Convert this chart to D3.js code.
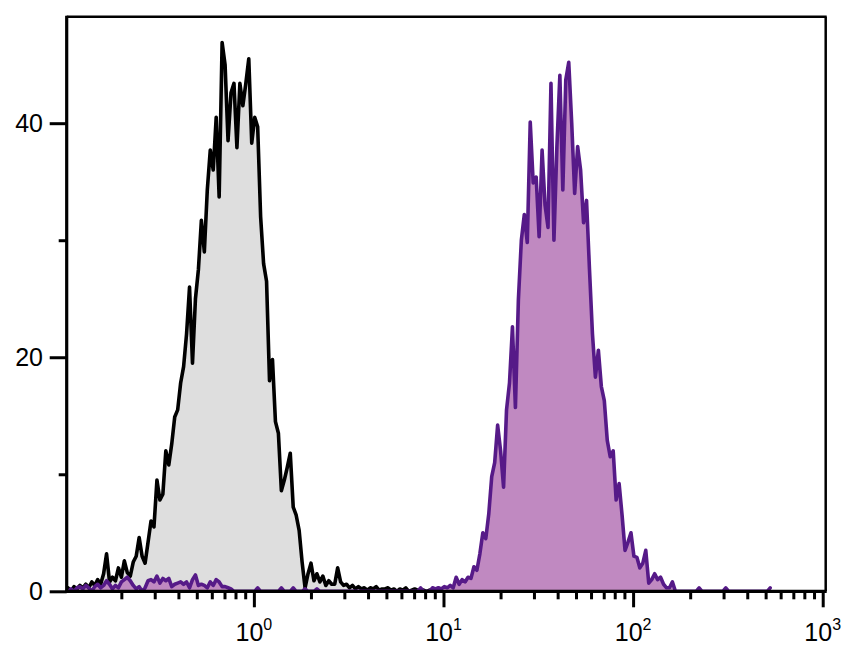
<!DOCTYPE html>
<html><head><meta charset="utf-8">
<script src="https://cdn.jsdelivr.net/npm/d3@7"></script>
<style>body{margin:0;background:#fff} svg{display:block}</style>
</head><body><svg id="c" width="856" height="672"></svg>
<script>
// Histogram bins: centre of bin i is at log10(value) = binStartLog + i / binsPerDecade
const binStartLog = -0.98;
const binsPerDecade = 64;

// Unstained / control (gray fill, black outline)
const grayCounts = [
 0.3,0,0.4,0.2,0.5,0.3,0.6,0.3,0.8,0.5,
 1.0,0.6,1.5,3.2,0.8,1.2,0.9,2.0,1.2,2.6,
 1.6,1.3,2.5,3.0,4.6,3.0,2.4,4.2,6.0,5.5,
 9.5,7.8,8.3,12.0,10.8,12.6,14.9,15.5,17.8,19.2,
 22.0,26.0,19.5,25.0,27.5,31.7,29.0,34.3,37.7,36.0,
 40.5,33.7,46.9,45.0,38.5,42.6,43.4,37.9,43.4,41.5,
 43.4,45.5,38.3,40.5,39.7,32.0,28.0,26.5,18.0,19.8,
 14.5,13.5,8.6,9.5,10.6,11.8,7.2,6.5,5.2,2.5,
 0.3,1.5,2.4,0.9,1.5,0.8,1.3,0.5,0.9,0.6,
 0.6,2.0,0.8,0.5,0.6,0.3,0.5,0.2,0.4,0.2,
 0.3,0.1,0.3,0.2,0.4,0.1,0.2,0.2,0.3,0.1,
 0.2,0,0.2,0.1,0.3,0,0.1,0.2,0.1,0,
 0.1,0,0.1,0,0.1,0,0
];

// Stained sample (purple)
const purpleCounts = [
 0,0.2,0,0.3,0.4,0.2,0.5,0.3,0,0.4,
 0.6,0.3,0.5,0.9,0.6,0.2,0.5,0.3,0.8,1.0,
 1.2,0.9,0.5,0.2,0.4,0,0.3,0.9,1.0,0.8,
 1.3,0.7,1.1,0.9,1.1,0.4,0.6,0.7,0.8,0.6,
 0.8,0.3,1.0,1.4,0.5,0.6,0.5,0.3,0.8,0.5,
 1.0,0.8,0.4,0.4,0.3,0.2,0,0,0,0,
 0,0,0,0,0.3,0,0,0,0,0,
 0,0,0.3,0,0,0,0.3,0,0,0,
 0.2,0,0,0,0.2,0,0,0,0,0,
 0,0,0,0,0,0,0,0,0,0,
 0,0,0,0,0,0,0,0,0,0,
 0,0,0,0,0,0,0,0,0,0.3,
 0,0,0,0.3,0.2,0.3,0.2,0.4,0.3,0.5,
 0.3,1.2,0.6,1.0,0.8,1.2,1.1,2.1,1.8,3.2,
 5.0,4.5,6.6,9.8,11.0,14.2,12.0,8.9,15.5,17.8,
 22.6,15.7,24.9,30.0,32.2,29.8,40.1,34.9,35.4,30.3,
 37.7,33.0,31.1,43.4,30.0,38.0,44.1,34.3,43.7,45.2,
 40.0,34.0,38.0,36.0,31.5,33.4,27.5,22.0,18.3,20.6,
 17.5,16.3,12.9,11.5,12.0,7.8,9.2,6.5,3.5,4.2,
 5.0,3.0,2.9,2.0,2.4,3.5,0.7,1.0,1.5,1.0,
 1.2,0.6,0.3,0.3,0.8,0,0,0,0,0,
 0,0,0,0.3,0,0,0,0,0,0,
 0,0,0.3,0,0,0,0,0,0,0,
 0,0,0,0,0,0,0,0.3
];

const yMajorTicks = [0, 20, 40];
const yMinorTicks = [10, 30];
const xDecadeExponents = [0, 1, 2, 3];
const xDomain = [0.103, 1037];
const yDomain = [0, 49.1];

const svg = d3.select('#c');
const L = 66.7, R = 825.7, T = 16.7, B = 591.3;
const x = d3.scaleLog().domain(xDomain).range([L, R]);
const y = d3.scaleLinear().domain(yDomain).range([B, T]);

const toPoints = counts => counts.map((c, i) => ({v: Math.pow(10, binStartLog + i / binsPerDecade), c}));
const grayPts = toPoints(grayCounts);
const purplePts = toPoints(purpleCounts);

svg.append('defs').append('clipPath').attr('id','clip')
  .append('rect').attr('x', L).attr('y', T).attr('width', R - L).attr('height', B - T);

const g = svg.append('g').attr('clip-path','url(#clip)');
const area = d3.area().x(d => x(d.v)).y0(y(0)).y1(d => y(d.c));
const line = d3.line().x(d => x(d.v)).y(d => y(d.c));

g.append('path').datum(grayPts).attr('d', area).attr('fill', '#dedede');
g.append('path').datum(purplePts).attr('d', area).attr('fill', '#c089c1');
g.append('path').datum(grayPts).attr('d', line).attr('fill','none')
  .attr('stroke','#000').attr('stroke-width',3.6).attr('stroke-linejoin','round').attr('stroke-linecap','round');
g.append('path').datum(purplePts).attr('d', line).attr('fill','none')
  .attr('stroke','#561a88').attr('stroke-width',3.6).attr('stroke-linejoin','round').attr('stroke-linecap','round');

// frame
svg.append('line').attr('x1', L).attr('x2', R + 1).attr('y1', T).attr('y2', T)
  .attr('stroke','#000').attr('stroke-width',2.5);
svg.append('line').attr('x1', R).attr('x2', R).attr('y1', T).attr('y2', B)
  .attr('stroke','#000').attr('stroke-width',2.5);

// minor x ticks
const minorX = [];
for (let e = -1; e <= 2; e++) for (let m = 2; m <= 9; m++) {
  const v = m * Math.pow(10, e);
  if (v >= xDomain[0] && v <= xDomain[1]) minorX.push(v);
}
const axisFont = '"Liberation Sans", Arial, sans-serif';

const xMinorAxis = d3.axisBottom(x).tickValues(minorX).tickSize(8).tickFormat('');
const gxm = svg.append('g').attr('transform', `translate(0,${B})`).call(xMinorAxis);
const xMajorAxis = d3.axisBottom(x).tickValues(xDecadeExponents.map(e => Math.pow(10, e))).tickSize(16).tickFormat('');
const gxM = svg.append('g').attr('transform', `translate(0,${B})`).call(xMajorAxis);
[gxm, gxM].forEach(a => {
  a.select('.domain').remove();
  a.selectAll('.tick line').attr('stroke','#000').attr('stroke-width',3);
});

// y ticks
const yMinorAxis = d3.axisLeft(y).tickValues(yMinorTicks).tickSize(8).tickFormat('');
const gym = svg.append('g').attr('transform', `translate(${L},0)`).call(yMinorAxis);
const yMajorAxis = d3.axisLeft(y).tickValues(yMajorTicks).tickSize(17).tickFormat('');
const gyM = svg.append('g').attr('transform', `translate(${L},0)`).call(yMajorAxis);
[gym, gyM].forEach(a => {
  a.select('.domain').remove();
  a.selectAll('.tick line').attr('stroke','#000').attr('stroke-width',3);
});

// axis lines (drawn on top)
svg.append('line').attr('x1', L).attr('x2', L).attr('y1', T - 1).attr('y2', B + 1.5)
  .attr('stroke','#000').attr('stroke-width',3.2);
svg.append('line').attr('x1', L - 1.5).attr('x2', R + 1).attr('y1', B).attr('y2', B)
  .attr('stroke','#000').attr('stroke-width',3.2);

// y labels
svg.append('g').selectAll('text').data(yMajorTicks).join('text')
  .attr('x', 43).attr('y', d => y(d) + 9)
  .attr('text-anchor','end').attr('font-family', axisFont).attr('font-size', 25)
  .attr('fill','#000').text(d => d);

// x labels with superscripts
const xl = svg.append('g').selectAll('text').data(xDecadeExponents).join('text')
  .attr('x', d => x(Math.pow(10, d))).attr('y', 641)
  .attr('text-anchor','middle').attr('font-family', axisFont).attr('fill','#000');
xl.append('tspan').attr('font-size', 25).text('10');
xl.append('tspan').attr('font-size', 16).attr('dy', -11).text(d => d);
</script>
</body></html>
